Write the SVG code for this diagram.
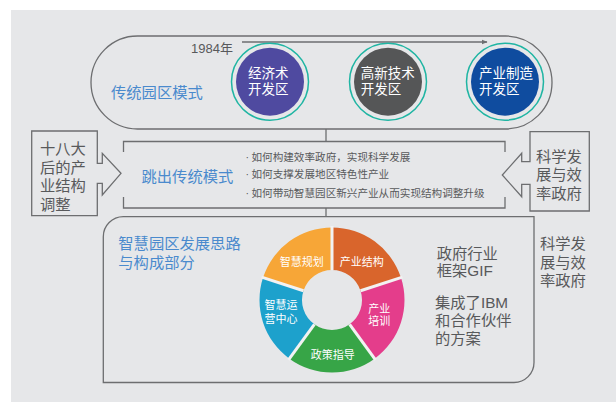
<svg xmlns="http://www.w3.org/2000/svg" width="616" height="402" viewBox="0 0 616 402">
<defs>
<style>
text{font-family:"Liberation Sans","Noto Sans CJK SC",sans-serif;}
.ln{fill:none;stroke:#6d6e70;stroke-width:1.3;}
.ring{fill:none;stroke:#1fb5a3;stroke-width:1.5;}
.wt{fill:#ffffff;font-size:13.5px;}
.blue{fill:#4a8acd;font-size:15.3px;}
.gr{fill:#58595b;font-size:15.3px;}
.sm{fill:#58595b;font-size:10.6px;}
.seg{fill:#ffffff;font-size:11px;text-anchor:middle;}
.gap{stroke:#f2f2f2;stroke-width:3;}
</style>
<marker id="ah" viewBox="0 0 10 10" refX="9" refY="5" markerWidth="6" markerHeight="6" orient="auto" markerUnits="userSpaceOnUse">
<path d="M0,1 L10,5 L0,9 Z" fill="#6d6e70"/>
</marker>
</defs>
<rect x="0" y="0" width="616" height="402" fill="#ffffff"/>
<rect x="11" y="10" width="605" height="392" fill="#e6e7e9"/>

<g id="connectors">
<line class="ln" x1="242" y1="42" x2="487" y2="42" marker-end="url(#ah)"/>
<line class="ln" x1="326" y1="129" x2="326" y2="141.5"/>
<line class="ln" x1="326" y1="208" x2="326" y2="216.7"/>
</g>

<g id="traditional">
<rect class="ln" x="91" y="36" width="461" height="93" rx="46.5" ry="46.5"/>
<text x="191" y="52.5" style="fill:#58595b;font-size:13px">1984年</text>
<text class="blue" x="111" y="97.5">传统园区模式</text>
</g>

<g id="zone1">
<circle class="ring" cx="270" cy="81.7" r="38.5"/>
<circle cx="270" cy="81.7" r="34" fill="#4f4aa0"/>
<text class="wt" x="248" y="77.8">经济术</text>
<text class="wt" x="248" y="94.2">开发区</text>
</g>
<g id="zone2">
<circle class="ring" cx="388" cy="81.7" r="38.5"/>
<circle cx="388" cy="81.7" r="34" fill="#555657"/>
<text class="wt" x="360.7" y="77.8">高新技术</text>
<text class="wt" x="360.7" y="94.2">开发区</text>
</g>
<g id="zone3">
<circle class="ring" cx="505" cy="81.7" r="38.5"/>
<circle cx="505" cy="81.7" r="34" fill="#0f4c9f"/>
<text class="wt" x="479" y="77.8">产业制造</text>
<text class="wt" x="479" y="94.2">开发区</text>
</g>

<g id="left-box">
<path class="ln" d="M97.3,163.3 V131 H31.7 V215.7 H97.3 V183.3 H102.3 V195 L121,173.3 L102.3,153.3 V163.3 Z"/>
<text class="gr" x="40" y="154">十八大</text>
<text class="gr" x="40" y="172.5">后的产</text>
<text class="gr" x="40" y="191">业结构</text>
<text class="gr" x="40" y="209.5">调整</text>
</g>

<g id="right-box">
<path class="ln" d="M530,161.7 V131.7 H589.3 V211 H530 V184.3 H521.7 V196.7 L502.3,175 L521.7,153.3 V161.7 Z"/>
<text class="gr" x="536" y="161.6">科学发</text>
<text class="gr" x="536" y="179.9">展与效</text>
<text class="gr" x="536" y="198.6">率政府</text>
</g>

<g id="middle-box">
<path class="ln" d="M123.5,152 V141.5 H505 V152 M505,197 V208 H123.5 V197"/>
<text class="blue" x="141.5" y="181.8">跳出传统模式</text>
<text class="sm" x="245.5" y="160.7">·</text>
<text class="sm" x="251.5" y="160.7">如何构建效率政府，实现科学发展</text>
<text class="sm" x="245.5" y="178.3">·</text>
<text class="sm" x="251.5" y="178.3">如何支撑发展地区特色性产业</text>
<text class="sm" x="245.5" y="197.3">·</text>
<text class="sm" x="251.5" y="197.3">如何带动智慧园区新兴产业从而实现结构调整升级</text>
</g>

<g id="smart-park">
<path class="ln" d="M103.3,236.7 A20,20 0 0 1 123.3,216.7 H534 V362.5 A20,20 0 0 1 514,382.5 H103.3 Z"/>
<text class="blue" x="118.3" y="249.1">智慧园区发展思路</text>
<text class="blue" x="118.3" y="267.5">与构成部分</text>
<text class="gr" x="436.7" y="258.6">政府行业</text>
<text class="gr" x="436.7" y="275.9">框架GIF</text>
<text class="gr" x="435" y="307.6">集成了IBM</text>
<text class="gr" x="435" y="325.9">和合作伙伴</text>
<text class="gr" x="435" y="344.2">的方案</text>
</g>

<g id="donut">
<path d="M263.05,277.6 A72.5,72.5 0 0 1 332,227.5 L332,270 A30,30 0 0 0 303.47,290.73 Z" fill="#f7a637"/>
<path d="M332,227.5 A72.5,72.5 0 0 1 400.95,277.6 L360.53,290.73 A30,30 0 0 0 332,270 Z" fill="#d9652c"/>
<path d="M400.95,277.6 A72.5,72.5 0 0 1 374.62,358.65 L349.63,324.27 A30,30 0 0 0 360.53,290.73 Z" fill="#e43d8b"/>
<path d="M374.62,358.65 A72.5,72.5 0 0 1 289.38,358.65 L314.37,324.27 A30,30 0 0 0 349.63,324.27 Z" fill="#37a547"/>
<path d="M289.38,358.65 A72.5,72.5 0 0 1 263.05,277.6 L303.47,290.73 A30,30 0 0 0 314.37,324.27 Z" fill="#1da1cc"/>
<line class="gap" x1="332" y1="270" x2="332" y2="226"/>
<line class="gap" x1="360.53" y1="290.73" x2="402.4" y2="277.1"/>
<line class="gap" x1="349.63" y1="324.27" x2="375.5" y2="359.9"/>
<line class="gap" x1="314.37" y1="324.27" x2="288.5" y2="359.9"/>
<line class="gap" x1="303.47" y1="290.73" x2="261.6" y2="277.1"/>
<text class="seg" x="301.7" y="265.9">智慧规划</text>
<text class="seg" x="361.7" y="265.9">产业结构</text>
<text class="seg" x="379.3" y="312.5">产业</text>
<text class="seg" x="379.3" y="325.3">培训</text>
<text class="seg" x="281" y="309.2">智慧运</text>
<text class="seg" x="281" y="322.5">营中心</text>
<text class="seg" x="332.7" y="359.2">政策指导</text>
</g>

<g id="right-note">
<text class="gr" x="540" y="249.2">科学发</text>
<text class="gr" x="540" y="267.6">展与效</text>
<text class="gr" x="540" y="286">率政府</text>
</g>
</svg>
